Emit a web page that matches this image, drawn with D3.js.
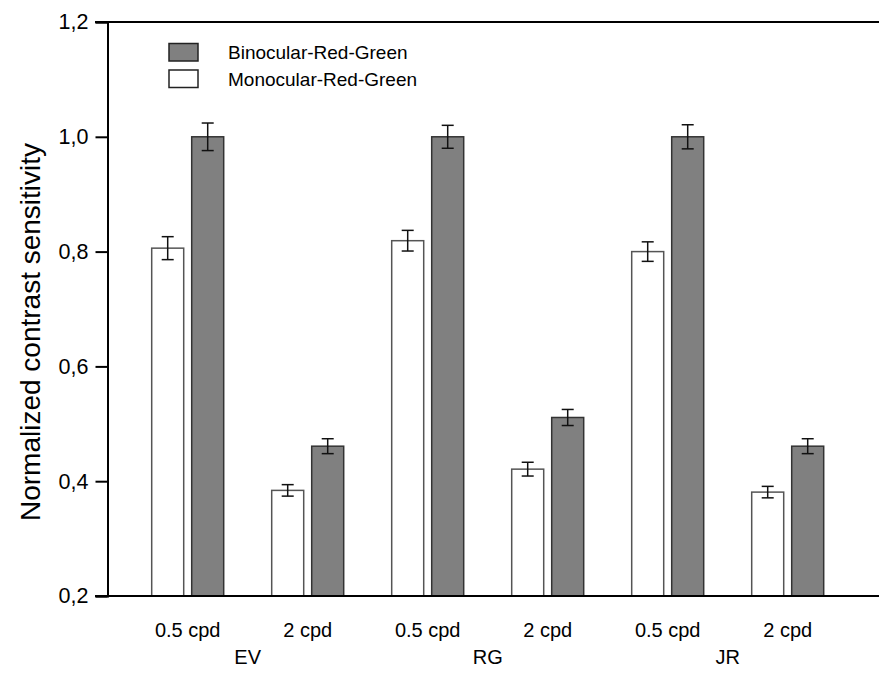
<!DOCTYPE html>
<meta charset="utf-8" />
<style>
  body { margin: 0; background: #fff; }
  text { font-family: "Liberation Sans", Arial, sans-serif; fill: #000; }
</style>
<svg width="879" height="673"></svg>
<script src="https://d3js.org/d3.v7.min.js"></script>
<script>
  // categories along the x axis
  var freqs = ["0.5 cpd", "2 cpd", "0.5 cpd", "2 cpd", "0.5 cpd", "2 cpd"];
  var subjects = ["EV", "RG", "JR"];
  var series = ["Monocular-Red-Green", "Binocular-Red-Green"];

  // values
  var mono = [0.806, 0.384, 0.819, 0.421, 0.800, 0.381];
  var monoErr = [0.020, 0.010, 0.018, 0.012, 0.017, 0.010];
  var bino = [1.0, 0.461, 1.0, 0.511, 1.0, 0.461];
  var binoErr = [0.024, 0.013, 0.020, 0.014, 0.021, 0.013];

  var yTicks = [0.2, 0.4, 0.6, 0.8, 1.0, 1.2];

  var svg = d3.select("svg");

  var x = d3.scaleBand().domain(d3.range(freqs.length)).range([127.7, 847.7]);
  var xs = d3.scaleBand().domain(series).range([24, 96]).paddingInner(0.2);
  var y = d3.scaleLinear().domain([0.2, 1.2]).range([596, 22]);

  var colors = { "Monocular-Red-Green": "#fff", "Binocular-Red-Green": "#808080" };
  var strokes = { "Monocular-Red-Green": "#555", "Binocular-Red-Green": "#333" };

  var rows = [];
  freqs.forEach(function (f, i) {
    rows.push({ i: i, s: series[0], v: mono[i], e: monoErr[i] });
    rows.push({ i: i, s: series[1], v: bino[i], e: binoErr[i] });
  });

  // bars
  svg.append("g")
    .selectAll("rect")
    .data(rows)
    .join("rect")
    .attr("x", d => x(d.i) + xs(d.s))
    .attr("y", d => y(d.v))
    .attr("width", xs.bandwidth())
    .attr("height", d => y(0.2) - y(d.v))
    .attr("fill", d => colors[d.s])
    .attr("stroke", d => strokes[d.s])
    .attr("stroke-width", 1.5);

  // error bars
  var eb = svg.append("g").attr("stroke", "#111").attr("stroke-width", 1.5);
  rows.forEach(function (d) {
    var cx = x(d.i) + xs(d.s) + xs.bandwidth() / 2;
    eb.append("line").attr("x1", cx).attr("x2", cx)
      .attr("y1", y(d.v + d.e)).attr("y2", y(d.v - d.e));
    eb.append("line").attr("x1", cx - 6).attr("x2", cx + 6)
      .attr("y1", y(d.v + d.e)).attr("y2", y(d.v + d.e));
    eb.append("line").attr("x1", cx - 6).attr("x2", cx + 6)
      .attr("y1", y(d.v - d.e)).attr("y2", y(d.v - d.e));
  });

  // y axis
  var yAxis = svg.append("g")
    .attr("transform", "translate(107.5,0)")
    .call(d3.axisLeft(y).tickValues(yTicks).tickSize(12).tickPadding(7)
      .tickFormat(d => d3.format(".1f")(d).replace(".", ",")));
  yAxis.select(".domain").attr("stroke-width", 2);
  yAxis.selectAll(".tick line").attr("stroke-width", 2);
  yAxis.selectAll("text").style("font-size", "21.5px").attr("fill", "#000");

  // bottom and top frame lines
  svg.append("line").attr("x1", 95).attr("x2", 879)
    .attr("y1", y(0.2)).attr("y2", y(0.2)).attr("stroke", "#000").attr("stroke-width", 2);
  svg.append("line").attr("x1", 95).attr("x2", 879)
    .attr("y1", y(1.2)).attr("y2", y(1.2)).attr("stroke", "#000").attr("stroke-width", 2);

  // x labels
  svg.append("g")
    .selectAll("text")
    .data(freqs)
    .join("text")
    .attr("x", (d, i) => x(i) + x.bandwidth() / 2)
    .attr("y", 637)
    .attr("text-anchor", "middle")
    .style("font-size", "20px")
    .text(d => d);

  svg.append("g")
    .selectAll("text")
    .data(subjects)
    .join("text")
    .attr("x", (d, i) => (x(2 * i) + x(2 * i + 1)) / 2 + x.bandwidth() / 2)
    .attr("y", 664)
    .attr("text-anchor", "middle")
    .style("font-size", "20px")
    .text(d => d);

  // y title
  svg.append("text")
    .attr("transform", "translate(40,332) rotate(-90)")
    .attr("text-anchor", "middle")
    .style("font-size", "28px")
    .text("Normalized contrast sensitivity");

  // legend
  var legend = svg.append("g");
  [series[1], series[0]].forEach(function (s, k) {
    legend.append("rect")
      .attr("x", 169).attr("y", 43.5 + k * 26.5)
      .attr("width", 29).attr("height", 17.5)
      .attr("fill", colors[s]).attr("stroke", "#222").attr("stroke-width", 1.5);
    legend.append("text")
      .attr("x", 228).attr("y", 59 + k * 26.5)
      .style("font-size", "19px")
      .text(s);
  });
</script>
